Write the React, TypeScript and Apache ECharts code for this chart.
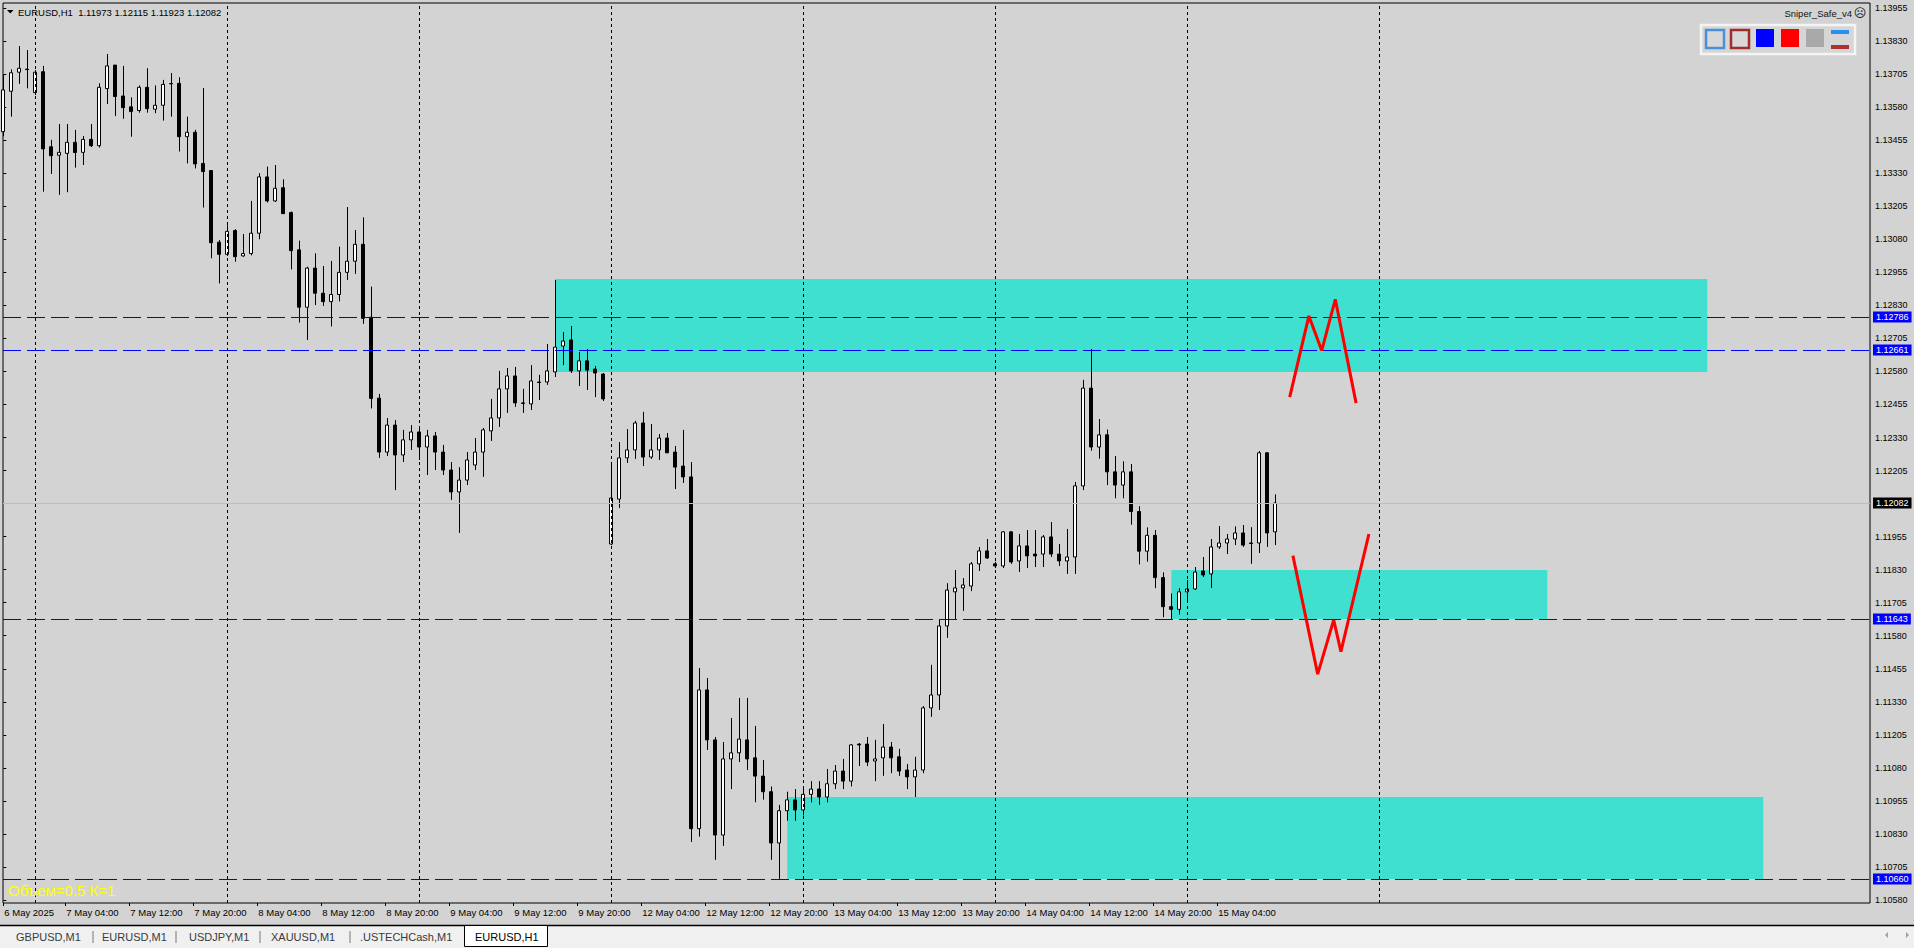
import React, { useEffect, useRef } from "react";
import * as echarts from "echarts";

const W = 1914;
const H = 948;
const BG = "#d3d3d3";
const FONT = "'Liberation Sans', Arial, sans-serif";

// [open, close, low, high] for each H1 bar, index 0 = 6 May 20:00
const ohlc: number[][] = [
  [1.13487, 1.13645, 1.1347, 1.13705],
  [1.1364, 1.1371, 1.13544, 1.13723],
  [1.13712, 1.13727, 1.13668, 1.13811],
  [1.13724, 1.13722, 1.13651, 1.13796],
  [1.13635, 1.13712, 1.13626, 1.1372],
  [1.13714, 1.13422, 1.1326, 1.13736],
  [1.1343, 1.13396, 1.13327, 1.13456],
  [1.13398, 1.13409, 1.13248, 1.13516],
  [1.13405, 1.13447, 1.13258, 1.13516],
  [1.13447, 1.13408, 1.13351, 1.13494],
  [1.13409, 1.13458, 1.13361, 1.13471],
  [1.13458, 1.13434, 1.13429, 1.13516],
  [1.13434, 1.13655, 1.13427, 1.1367],
  [1.1365, 1.13736, 1.13592, 1.13781],
  [1.13739, 1.1362, 1.13546, 1.13739],
  [1.13622, 1.13578, 1.13536, 1.13736],
  [1.13581, 1.13563, 1.13468, 1.13617],
  [1.13567, 1.13655, 1.13559, 1.13662],
  [1.13655, 1.13574, 1.13559, 1.13727],
  [1.13572, 1.13587, 1.13557, 1.13662],
  [1.13587, 1.13666, 1.13529, 1.13683],
  [1.13669, 1.13668, 1.13544, 1.13709],
  [1.1367, 1.13468, 1.13412, 1.13693],
  [1.13468, 1.13485, 1.13367, 1.13544],
  [1.13485, 1.13365, 1.13348, 1.13494],
  [1.13367, 1.13336, 1.132, 1.13652],
  [1.1334, 1.13067, 1.13008, 1.13342],
  [1.13069, 1.13023, 1.12913, 1.13077],
  [1.13023, 1.1311, 1.13017, 1.13133],
  [1.13113, 1.13014, 1.12995, 1.13118],
  [1.13017, 1.13026, 1.13014, 1.131],
  [1.13026, 1.13103, 1.13019, 1.13225],
  [1.13103, 1.13316, 1.1308, 1.1333],
  [1.13316, 1.13225, 1.13219, 1.13355],
  [1.13225, 1.13273, 1.13221, 1.13361],
  [1.13275, 1.13177, 1.13177, 1.13307],
  [1.13181, 1.13037, 1.12966, 1.13185],
  [1.1304, 1.12823, 1.12765, 1.13075],
  [1.12823, 1.12971, 1.12699, 1.12976],
  [1.12971, 1.12876, 1.12831, 1.13027],
  [1.12876, 1.12844, 1.12828, 1.12979],
  [1.12844, 1.12871, 1.1275, 1.12998],
  [1.12871, 1.12955, 1.12845, 1.13052],
  [1.12955, 1.12997, 1.12926, 1.13202],
  [1.12997, 1.13061, 1.12949, 1.13115],
  [1.13061, 1.12781, 1.1276, 1.13163],
  [1.12785, 1.12478, 1.1244, 1.12901],
  [1.12479, 1.12275, 1.12253, 1.12495],
  [1.12275, 1.12377, 1.1226, 1.12404],
  [1.12377, 1.12264, 1.12131, 1.12396],
  [1.12264, 1.12321, 1.12237, 1.12359],
  [1.12321, 1.12351, 1.12283, 1.12377],
  [1.12351, 1.12294, 1.12245, 1.12366],
  [1.12294, 1.12336, 1.12188, 1.12359],
  [1.12336, 1.12275, 1.12207, 1.12351],
  [1.12275, 1.12207, 1.12188, 1.12302],
  [1.12207, 1.12124, 1.12094, 1.12237],
  [1.12124, 1.12169, 1.11969, 1.12218],
  [1.12169, 1.12245, 1.1215, 1.12275],
  [1.12226, 1.12275, 1.12207, 1.12328],
  [1.12275, 1.12359, 1.12181, 1.12366],
  [1.12355, 1.12404, 1.12317, 1.12476],
  [1.12404, 1.12514, 1.1237, 1.12582],
  [1.12514, 1.12563, 1.12423, 1.12593],
  [1.12563, 1.12461, 1.12446, 1.12597],
  [1.12461, 1.12459, 1.12423, 1.12514],
  [1.12457, 1.12544, 1.12434, 1.12604],
  [1.1254, 1.12538, 1.12472, 1.12567],
  [1.1254, 1.12582, 1.12529, 1.12684],
  [1.12578, 1.12672, 1.12559, 1.12926],
  [1.12676, 1.12695, 1.12604, 1.12729],
  [1.12699, 1.12582, 1.12574, 1.12752],
  [1.12582, 1.1262, 1.12525, 1.12654],
  [1.1262, 1.12585, 1.1251, 1.12665],
  [1.12589, 1.12574, 1.12483, 1.12601],
  [1.1257, 1.12476, 1.12468, 1.12574],
  [1.11927, 1.12101, 1.11923, 1.1223],
  [1.12097, 1.12253, 1.12063, 1.12313],
  [1.12253, 1.12283, 1.12234, 1.12362],
  [1.12283, 1.12385, 1.12249, 1.12393],
  [1.12385, 1.12256, 1.12222, 1.12427],
  [1.12256, 1.12283, 1.12249, 1.12381],
  [1.12283, 1.12328, 1.12245, 1.12343],
  [1.12328, 1.12272, 1.12272, 1.12347],
  [1.12275, 1.12218, 1.12135, 1.12298],
  [1.12222, 1.12181, 1.12158, 1.12359],
  [1.12181, 1.1085, 1.108, 1.12237],
  [1.1085, 1.11375, 1.1082, 1.11458],
  [1.11375, 1.11186, 1.11148, 1.1142],
  [1.11186, 1.10826, 1.10732, 1.11197],
  [1.10826, 1.11114, 1.10785, 1.11178],
  [1.11114, 1.11137, 1.11, 1.11269],
  [1.11137, 1.11189, 1.11102, 1.11345],
  [1.11186, 1.11114, 1.11072, 1.11345],
  [1.11118, 1.11049, 1.1095, 1.11239],
  [1.11049, 1.1099, 1.1096, 1.1111],
  [1.1099, 1.10796, 1.10732, 1.1101],
  [1.10796, 1.10918, 1.1066, 1.1094],
  [1.10918, 1.10959, 1.1088, 1.1099],
  [1.10959, 1.10921, 1.1088, 1.11],
  [1.10921, 1.1098, 1.109, 1.1101],
  [1.1098, 1.11, 1.1095, 1.1103],
  [1.11, 1.1097, 1.1094, 1.1103],
  [1.1097, 1.1102, 1.1095, 1.11076],
  [1.1102, 1.11068, 1.11, 1.11091],
  [1.11068, 1.1103, 1.11, 1.11114],
  [1.1103, 1.11167, 1.1101, 1.1117],
  [1.1117, 1.11167, 1.11087, 1.11174],
  [1.1117, 1.11102, 1.11087, 1.11197],
  [1.11106, 1.11114, 1.1103, 1.11186],
  [1.11118, 1.11159, 1.1105, 1.11246],
  [1.11159, 1.11118, 1.1106, 1.11178],
  [1.11122, 1.11068, 1.1105, 1.11152],
  [1.11072, 1.11046, 1.11, 1.11095],
  [1.11046, 1.11072, 1.1097, 1.11122],
  [1.11072, 1.11307, 1.1106, 1.11314],
  [1.11307, 1.11356, 1.11273, 1.1147],
  [1.11356, 1.11617, 1.11299, 1.1164],
  [1.11617, 1.11753, 1.11572, 1.11779],
  [1.11746, 1.11761, 1.11643, 1.11829],
  [1.11761, 1.11772, 1.11674, 1.11798],
  [1.11768, 1.11852, 1.11749, 1.11859],
  [1.11852, 1.11901, 1.11825, 1.11916],
  [1.11901, 1.11874, 1.11871, 1.11946],
  [1.11852, 1.11844, 1.11836, 1.1186],
  [1.11844, 1.11973, 1.11836, 1.11976],
  [1.11973, 1.11859, 1.11852, 1.11976],
  [1.11863, 1.1192, 1.11821, 1.11965],
  [1.1192, 1.11882, 1.11836, 1.1198],
  [1.11889, 1.11882, 1.1184, 1.1198],
  [1.11889, 1.11954, 1.1184, 1.11961],
  [1.11954, 1.11889, 1.11878, 1.1201],
  [1.11889, 1.11863, 1.11844, 1.11927],
  [1.11863, 1.11878, 1.11814, 1.11984],
  [1.11878, 1.12147, 1.11814, 1.12162],
  [1.12147, 1.12517, 1.12131, 1.12548],
  [1.12517, 1.12294, 1.1228, 1.12665],
  [1.12294, 1.1234, 1.1225, 1.124],
  [1.1234, 1.122, 1.1215, 1.1236],
  [1.122, 1.1215, 1.121, 1.1226],
  [1.1215, 1.122, 1.121, 1.1224],
  [1.122, 1.1205, 1.12, 1.1223],
  [1.1205, 1.119, 1.1185, 1.1207],
  [1.119, 1.1196, 1.1186, 1.1199],
  [1.1196, 1.118, 1.1176, 1.1198],
  [1.118, 1.1169, 1.1165, 1.1182],
  [1.1169, 1.1168, 1.11643, 1.1174],
  [1.1168, 1.11746, 1.1166, 1.1176],
  [1.11746, 1.11757, 1.11704, 1.11791],
  [1.11757, 1.11821, 1.11753, 1.1184],
  [1.11825, 1.1181, 1.11802, 1.11878],
  [1.11814, 1.11916, 1.11761, 1.11946],
  [1.11916, 1.11931, 1.11908, 1.11995],
  [1.11931, 1.11946, 1.11889, 1.11965],
  [1.11946, 1.11969, 1.11923, 1.11994],
  [1.11969, 1.11923, 1.11916, 1.11999],
  [1.11931, 1.11929, 1.11852, 1.11991],
  [1.11931, 1.12272, 1.11893, 1.12279],
  [1.12272, 1.11969, 1.11916, 1.12275],
  [1.11973, 1.12082, 1.11923, 1.12115],
];

// time-axis labels, one every 8 bars
const timeLabels = [
  "6 May 2025", "7 May 04:00", "7 May 12:00", "7 May 20:00", "8 May 04:00",
  "8 May 12:00", "8 May 20:00", "9 May 04:00", "9 May 12:00", "9 May 20:00",
  "12 May 04:00", "12 May 12:00", "12 May 20:00", "13 May 04:00", "13 May 12:00",
  "13 May 20:00", "14 May 04:00", "14 May 12:00", "14 May 20:00", "15 May 04:00",
];

const priceTicks = [
  1.1058, 1.10705, 1.1083, 1.10955, 1.1108, 1.11205, 1.1133, 1.11455, 1.1158, 1.11705,
  1.1183, 1.11955, 1.1208, 1.12205, 1.1233, 1.12455, 1.1258, 1.12705, 1.1283, 1.12955,
  1.1308, 1.13205, 1.1333, 1.13455, 1.1358, 1.13705, 1.1383, 1.13955,
];

const levels = [1.12786, 1.12661, 1.11643, 1.1066];
const bidPrice = 1.12082;
const daySeparators = [4, 28, 52, 76, 100, 124, 148, 172];

// [startBar, topPrice, endBar, bottomPrice]
const zones = [
  [69, 1.1293, 213, 1.12578],
  [146, 1.11829, 193, 1.11643],
  [98, 1.1097, 220, 1.1066],
];

const mPattern = [
  [160.8, 1.12483], [163.2, 1.1279], [164.8, 1.12659], [166.5, 1.12853], [169.1, 1.1246],
];
const wPattern = [
  [161.2, 1.11883], [164.3, 1.11435], [166.3, 1.1164], [167.2, 1.1152], [170.7, 1.11965],
];

const titleText = "EURUSD,H1  1.11973 1.12115 1.11923 1.12082";
const tabs = ["GBPUSD,M1", "EURUSD,M1", "USDJPY,M1", "XAUUSD,M1", ".USTECHCash,M1"];
const tabX = [16, 102, 189, 271, 360];
const tabSepX = [93, 176, 260, 350];

function buildOption(): any {
  const candleData = ohlc.map((d, i) => [i, d[0], d[1], d[2], d[3]]);
  const xTicks = timeLabels.map((_, k) => (k === 0 ? 0 : k * 8 - 0.25));

  const graphic: any[] = [];
  graphic.push({
    type: "polygon",
    shape: { points: [[7, 10], [13.5, 10], [10.25, 13.5]] },
    style: { fill: "#000" },
    z: 50,
  });
  graphic.push({
    type: "text",
    x: 18,
    y: 12,
    style: { text: titleText, fill: "#000", fontSize: 9.5, fontFamily: FONT, verticalAlign: "middle", align: "left" },
    z: 50,
  });
  graphic.push({
    type: "text",
    x: 1852,
    y: 13,
    style: { text: "Sniper_Safe_v4", fill: "#111", fontSize: 9.5, fontFamily: FONT, verticalAlign: "middle", align: "right" },
    z: 50,
  });
  graphic.push({
    type: "text",
    x: 1860,
    y: 13,
    style: { text: "\u2639", fill: "#111", fontSize: 12, fontFamily: "DejaVu Sans", verticalAlign: "middle", align: "center" },
    z: 50,
  });
  graphic.push({
    type: "rect",
    shape: { x: 1701, y: 25, width: 154, height: 29 },
    style: { fill: "#d6d6d6", stroke: "#f4f4f4", lineWidth: 2.5 },
    z: 50,
  });
  graphic.push({ type: "rect", shape: { x: 1706, y: 30, width: 18, height: 18 }, style: { fill: "#d8d8d8", stroke: "#4a90d9", lineWidth: 2.5 }, z: 51 });
  graphic.push({ type: "rect", shape: { x: 1731, y: 30, width: 18, height: 18 }, style: { fill: "#d8d8d8", stroke: "#a52a2a", lineWidth: 2.5 }, z: 51 });
  graphic.push({ type: "rect", shape: { x: 1756, y: 29, width: 18, height: 18 }, style: { fill: "#0000ff" }, z: 51 });
  graphic.push({ type: "rect", shape: { x: 1781, y: 29, width: 18, height: 18 }, style: { fill: "#ff0000" }, z: 51 });
  graphic.push({ type: "rect", shape: { x: 1806, y: 29, width: 18, height: 18 }, style: { fill: "#a9a9a9" }, z: 51 });
  graphic.push({ type: "rect", shape: { x: 1831, y: 30, width: 18, height: 4 }, style: { fill: "#2b8ff0" }, z: 51 });
  graphic.push({ type: "rect", shape: { x: 1831, y: 45, width: 18, height: 4 }, style: { fill: "#b03030" }, z: 51 });
  graphic.push({
    type: "text",
    x: 8,
    y: 890,
    style: { text: "Объем=0.5 К=1", fill: "#ffff00", fontSize: 15, fontFamily: FONT, verticalAlign: "middle", align: "left" },
    z: 50,
  });
  graphic.push({ type: "rect", shape: { x: 0, y: 926, width: W, height: 22 }, style: { fill: "#f0f0f0" }, z: 50 });
  graphic.push({ type: "line", shape: { x1: 0, y1: 925.5, x2: W, y2: 925.5 }, style: { stroke: "#000", lineWidth: 1.5 }, z: 51 });
  graphic.push({ type: "rect", shape: { x: 464.5, y: 925.5, width: 83, height: 21 }, style: { fill: "#ffffff", stroke: "#000", lineWidth: 1 }, z: 52 });
  tabs.forEach((t, i) => {
    graphic.push({
      type: "text",
      x: tabX[i],
      y: 937,
      style: { text: t, fill: "#3a3a3a", fontSize: 11, fontFamily: FONT, verticalAlign: "middle", align: "left" },
      z: 53,
    });
  });
  tabSepX.forEach((x) => {
    graphic.push({ type: "line", shape: { x1: x, y1: 931, x2: x, y2: 943 }, style: { stroke: "#777", lineWidth: 1 }, z: 53 });
  });
  graphic.push({
    type: "text",
    x: 475,
    y: 937,
    style: { text: "EURUSD,H1", fill: "#000", fontSize: 11, fontFamily: FONT, verticalAlign: "middle", align: "left" },
    z: 53,
  });
  graphic.push({ type: "polygon", shape: { points: [[1888, 932], [1888, 938], [1885, 935]] }, style: { fill: "#a0a0a0" }, z: 53 });
  graphic.push({ type: "polygon", shape: { points: [[1906, 932], [1906, 938], [1909, 935]] }, style: { fill: "#a0a0a0" }, z: 53 });

  return {
    animation: false,
    backgroundColor: BG,
    textStyle: { fontFamily: FONT },
    grid: {
      left: 3,
      top: 3,
      right: W - 1870,
      bottom: H - 903,
      show: true,
      borderColor: "#000",
      borderWidth: 1,
      backgroundColor: "transparent",
      outerBoundsMode: "none",
    },
    xAxis: {
      type: "value",
      min: -0.0375,
      max: 233.3375,
      splitLine: { show: false },
      axisLine: { show: false },
      axisTick: { show: true, length: 3, lineStyle: { color: "#000" }, customValues: xTicks },
      axisLabel: {
        customValues: xTicks,
        formatter: (v: number) => timeLabels[Math.round((v + 0.25) / 8)] ?? "",
        align: "left",
        padding: [0, 0, 0, 1],
        margin: 4,
        fontSize: 9.5,
        color: "#000",
        fontFamily: FONT,
      },
    },
    yAxis: {
      type: "value",
      position: "right",
      min: 1.105689,
      max: 1.139739,
      splitLine: { show: false },
      axisLine: { show: false },
      axisTick: { show: true, length: 3, lineStyle: { color: "#000" }, customValues: priceTicks },
      axisLabel: {
        customValues: priceTicks,
        formatter: (v: number) => v.toFixed(5),
        margin: 5,
        fontSize: 9,
        color: "#000",
        fontFamily: FONT,
      },
    },
    graphic,
    series: [
      {
        name: "zones",
        type: "line",
        data: [],
        z: 1,
        silent: true,
        markArea: {
          silent: true,
          itemStyle: { color: "#40e0d0", opacity: 1 },
          label: { show: false },
          data: zones.map((z) => [{ coord: [z[0], z[1]] }, { coord: [z[2], z[3]] }]),
        },
      },
      {
        name: "separators",
        type: "line",
        data: [],
        z: 2,
        silent: true,
        markLine: {
          silent: true,
          precision: 6,
          symbol: ["none", "none"],
          label: { show: false },
          lineStyle: { color: "#000", type: [3, 3], width: 1 },
          data: daySeparators.map((x) => ({ xAxis: x })),
        },
      },
      {
        name: "bid",
        type: "line",
        data: [],
        z: 2,
        silent: true,
        markLine: {
          silent: true,
          precision: 6,
          symbol: ["none", "none"],
          lineStyle: { color: "#bdbdbd", type: "solid", width: 1 },
          label: {
            show: true,
            position: "end",
            distance: 3,
            formatter: bidPrice.toFixed(5),
            backgroundColor: "#000",
            color: "#fff",
            padding: [1, 3, 1, 3],
            fontSize: 9,
            fontFamily: FONT,
          },
          data: [{ yAxis: bidPrice }],
        },
      },
      {
        name: "EURUSD",
        type: "candlestick",
        z: 3,
        barWidth: 3.6,
        data: candleData,
        encode: { x: 0, y: [1, 2, 3, 4] },
        itemStyle: {
          color: "#ffffff",
          color0: "#000000",
          borderColor: "#000000",
          borderColor0: "#000000",
          borderWidth: 1,
        },
      },
      {
        name: "levels",
        type: "line",
        data: [],
        z: 5,
        silent: true,
        markLine: {
          silent: true,
          precision: 6,
          symbol: ["none", "none"],
          lineStyle: { color: "#0000ff", type: [18, 6], width: 1 },
          label: {
            show: true,
            position: "end",
            distance: 3,
            backgroundColor: "#0000ff",
            color: "#fff",
            padding: [1, 3, 1, 3],
            fontSize: 9,
            fontFamily: FONT,
          },
          data: levels.map((v) => ({ yAxis: v, label: { formatter: v.toFixed(5) } })),
        },
      },
      {
        name: "M",
        type: "line",
        z: 6,
        silent: true,
        symbol: "none",
        data: mPattern,
        lineStyle: { color: "#ff0000", width: 3 },
      },
      {
        name: "W",
        type: "line",
        z: 6,
        silent: true,
        symbol: "none",
        data: wPattern,
        lineStyle: { color: "#ff0000", width: 3 },
      },
    ],
  };
}

export default function App() {
  const ref = useRef<HTMLDivElement>(null);
  useEffect(() => {
    document.body.style.margin = "0";
    document.body.style.background = BG;
    const chart = echarts.init(ref.current as HTMLDivElement, null, { renderer: "svg", width: W, height: H });
    chart.setOption(buildOption());
    return () => chart.dispose();
  }, []);
  return <div ref={ref} style={{ width: W, height: H }} />;
}
